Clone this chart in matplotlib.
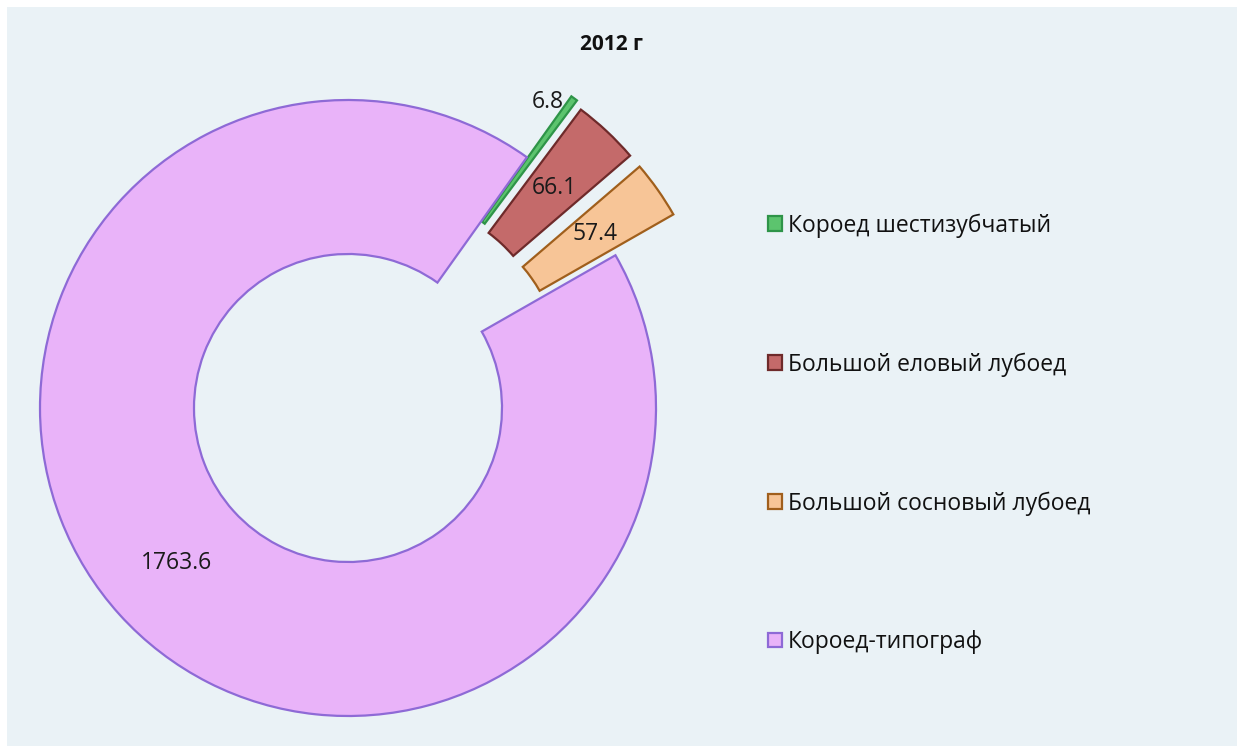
import matplotlib
matplotlib.use("Agg")
import numpy as np
import matplotlib.pyplot as plt
from matplotlib.patches import Rectangle

plt.rcParams['font.family'] = ['Open Sans', 'DejaVu Sans']

title = "2012 г"
categories = ["Короед шестизубчатый", "Большой еловый лубоед",
              "Большой сосновый лубоед", "Короед-типограф"]
values = [6.8, 66.1, 57.4, 1763.6]
fill_colors = ["#5CC46E", "#C46A6A", "#F7C597", "#E9B3F9"]
edge_colors = ["#2E9448", "#6E2A2A", "#A05F1C", "#8E6AD6"]
explode = [0.245, 0.23, 0.23, 0.0]

W, H = 1244, 753
fig = plt.figure(figsize=(W / 100, H / 100), dpi=100)
fig.patch.set_facecolor("white")
fig.add_artist(Rectangle((7 / W, 7 / H), (W - 14) / W, (H - 14) / H,
                         transform=fig.transFigure, facecolor="#EAF2F6",
                         edgecolor="none", zorder=0))

ax = fig.add_axes([0, 0, 1, 1])
ax.set_facecolor("none")
total = sum(values)

wedges, texts, autotexts = ax.pie(
    values, explode=explode, colors=fill_colors, startangle=54.5,
    counterclock=False, radius=1.0,
    wedgeprops=dict(width=0.5, linewidth=1.6),
    autopct=lambda p: f"{p * total / 100:.1f}", pctdistance=0.75,
    textprops=dict(fontsize=16.5, color="#1a1a1a"))
for w, ec in zip(wedges, edge_colors):
    w.set_edgecolor(ec)

# the tiny first slice's label sits just outside it, slightly counter-clockwise
w0 = wedges[0]
ang = np.deg2rad((w0.theta1 + w0.theta2) / 2 + 3.0)
autotexts[0].set_position((1.185 * np.cos(ang), 1.185 * np.sin(ang)))

R = 308.0
cx, cy = 348.0, 408.0
ax.set_xlim(-cx / R, (W - cx) / R)
ax.set_ylim(-(H - cy) / R, cy / R)
ax.set_aspect("auto")
ax.axis("off")

fig.text(611 / W, 1 - 45 / H, title, ha="center", va="center",
         fontsize=15, fontweight="bold", color="#111111")

leg = fig.legend(wedges, categories, loc="upper left",
                 bbox_to_anchor=(757 / W, 1 - 202 / H), frameon=False,
                 fontsize=16.5, handlelength=0.6, handleheight=0.6,
                 handletextpad=0.25, labelspacing=5.0, borderpad=0)
for t in leg.get_texts():
    t.set_color("#111111")

fig.savefig("out.png", dpi=100, facecolor=fig.get_facecolor())
